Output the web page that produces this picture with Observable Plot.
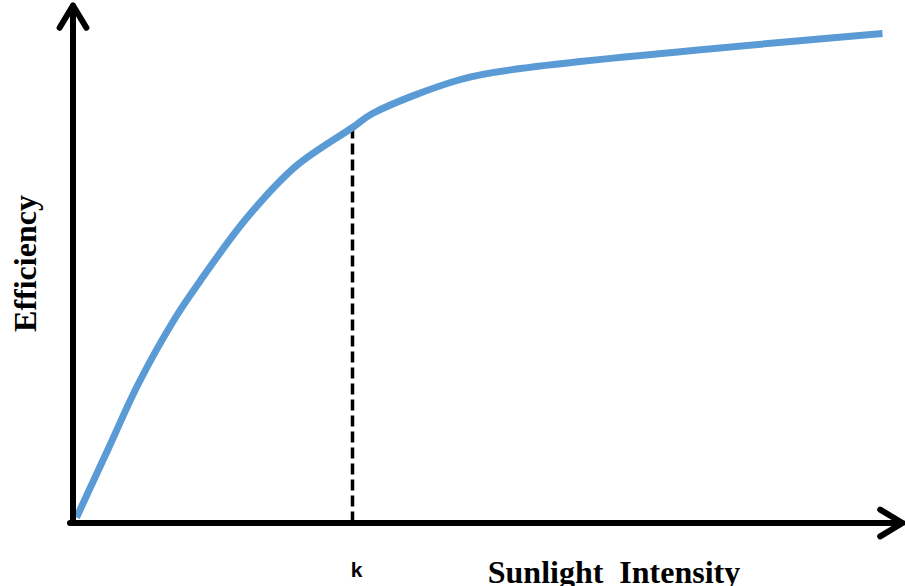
<!DOCTYPE html>
<html>
<head>
<meta charset="utf-8">
<script src="https://cdn.jsdelivr.net/npm/d3@7"></script>
<script src="https://cdn.jsdelivr.net/npm/@observablehq/plot@0.6"></script>
<style>
  html, body { margin: 0; padding: 0; background: #fff; }
  svg text { white-space: pre; }
</style>
</head>
<body>
<div id="chart"></div>
<script>
// Curve values (arbitrary units: sunlight intensity vs efficiency)
const intensity  = [3.5, 34.5, 65.5, 102.5, 127.5, 172.5, 222.5, 279.5, 299.5, 387.5, 447.5, 809.5];
const efficiency = [5.5, 72.5, 139.5, 205.5, 242.5, 303.5, 356.5, 395.5, 409.5, 443.5, 454.5, 489.5];
// Marked point k
const kIntensity = 279.5;
const kEfficiency = 394.5;
// Axis extents
const xMax = 829.5;
const yMax = 517.5;
// Labels
const xLabel = "Sunlight  Intensity";
const yLabel = "Efficiency";
const kLabel = "k";

const curve = intensity.map((x, i) => ({x, y: efficiency[i]}));
const axes = [
  {x1: -3, y1: 0, x2: xMax, y2: 0},
  {x1: 0, y1: 0, x2: 0, y2: yMax}
];

const chart = Plot.plot({
  width: 905,
  height: 586,
  margin: 0,
  x: {domain: [0, 830], range: [72.5, 902.5], axis: null},
  y: {domain: [0, yMax], range: [522.5, 5], axis: null},
  style: {background: "#fff", overflow: "visible"},
  marks: [
    Plot.ruleX([kIntensity], {x: d => d, y1: 0, y2: kEfficiency, stroke: "#000", strokeWidth: 3.5, strokeDasharray: "11,5"}),
    Plot.line(curve, {x: "x", y: "y", curve: "catmull-rom", stroke: "#5B9BD5", strokeWidth: 7, strokeLinecap: "butt", strokeLinejoin: "round"}),
    Plot.arrow(axes, {x1: "x1", y1: "y1", x2: "x2", y2: "y2", stroke: "#000", strokeWidth: 6, headLength: 6.5, headAngle: 62, strokeLinecap: "round", strokeLinejoin: "round"}),
    Plot.text([yLabel], {text: d => d, frameAnchor: "left", textAnchor: "middle", rotate: -90, dx: 25, dy: -30, fontFamily: "Liberation Serif", fontWeight: "bold", fontSize: 32, fill: "#000"}),
    Plot.text([xLabel], {text: d => d, frameAnchor: "bottom", lineAnchor: "bottom", dx: 161, dy: -4, fontFamily: "Liberation Serif", fontWeight: "bold", fontSize: 32, fill: "#000"}),
    Plot.text([kLabel], {text: d => d, x: () => kIntensity, frameAnchor: "bottom", lineAnchor: "bottom", dx: 4, dy: -10, fontFamily: "Liberation Sans", fontWeight: "bold", fontSize: 21, fill: "#000"})
  ]
});
document.getElementById("chart").appendChild(chart);
</script>
</body>
</html>
